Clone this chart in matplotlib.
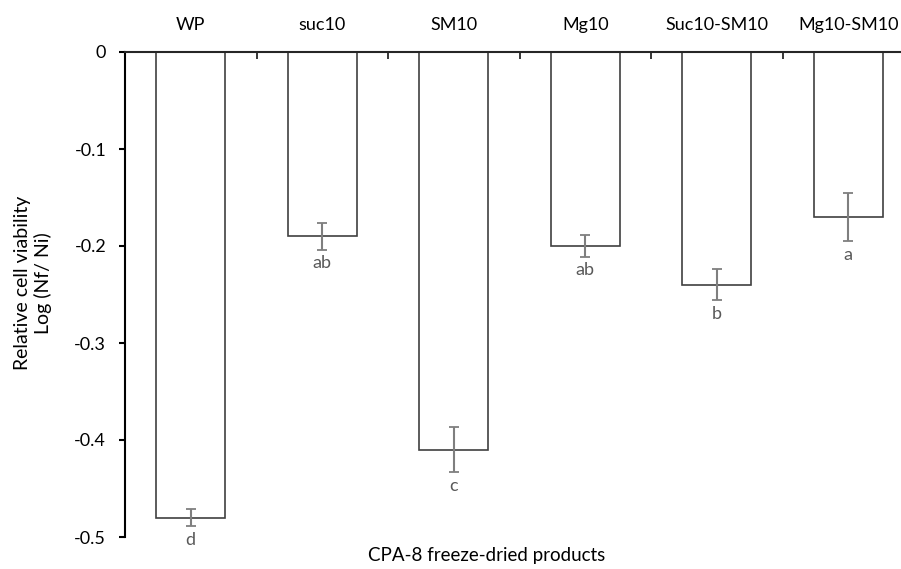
import matplotlib
matplotlib.use("Agg")
import matplotlib.pyplot as plt
from matplotlib.ticker import FixedLocator, FuncFormatter

categories = ["WP", "suc10", "SM10", "Mg10", "Suc10-SM10", "Mg10-SM10"]
values = [-0.48, -0.19, -0.41, -0.20, -0.24, -0.17]
errors = [0.009, 0.014, 0.023, 0.011, 0.016, 0.025]
letters = ["d", "ab", "c", "ab", "b", "a"]
yticks = [0, -0.1, -0.2, -0.3, -0.4, -0.5]

plt.rcParams['font.family'] = ['Lato', 'DejaVu Sans']

W, H = 901, 569
fig = plt.figure(figsize=(W / 100, H / 100), dpi=100)
ax = fig.add_axes([125 / W, 32 / H, 789 / W, 485 / H])

x = list(range(len(categories)))
ax.bar(x, values, width=0.525, color="white", edgecolor="#404040", linewidth=1.2, zorder=2)
ax.errorbar(x, values, yerr=errors, fmt="none", ecolor="#7f7f7f", elinewidth=1.5,
            capsize=3.5, capthick=1.3, zorder=3)

for xi, v, e, lab in zip(x, values, errors, letters):
    ax.annotate(lab, (xi, v - e), xytext=(0, -4), textcoords="offset points",
                ha="center", va="top", fontsize=13, color="#595959")

ax.set_xlim(-0.5, len(categories) - 0.5)
ax.set_ylim(-0.5, 0)

ax.spines["right"].set_visible(False)
ax.spines["bottom"].set_visible(False)
ax.spines["left"].set_linewidth(1.5)
ax.spines["left"].set_color("black")
ax.spines["top"].set_linewidth(1.5)
ax.spines["top"].set_color("#262626")

ax.yaxis.set_major_locator(FixedLocator(yticks))
ax.yaxis.set_major_formatter(FuncFormatter(lambda v, p: "0" if abs(v) < 1e-9 else f"{v:.1f}".replace("\u2212", "-")))
ax.tick_params(axis="y", direction="out", length=4.5, width=1.5, labelsize=13, pad=9, colors="black")

ax.xaxis.set_ticks_position("top")
ax.set_xticks([i + 0.5 for i in range(len(categories))])
ax.set_xticklabels([])
ax.tick_params(axis="x", direction="in", length=5, width=1.3, colors="#262626")

for xi, c in zip(x, categories):
    ax.annotate(c, (xi, 0), xytext=(0, 27), textcoords="offset pixels",
                ha="center", va="center", fontsize=13, color="black", annotation_clip=False)

fig.text(487 / W, 1 - 555 / H, "CPA-8 freeze-dried products", ha="center", va="center", fontsize=13.5)
fig.text(33 / W, 1 - 283 / H, "Relative cell viability\nLog (Nf/ Ni)", ha="center", va="center",
         rotation=90, fontsize=14, linespacing=1.25)

fig.savefig("out.png", dpi=100)
